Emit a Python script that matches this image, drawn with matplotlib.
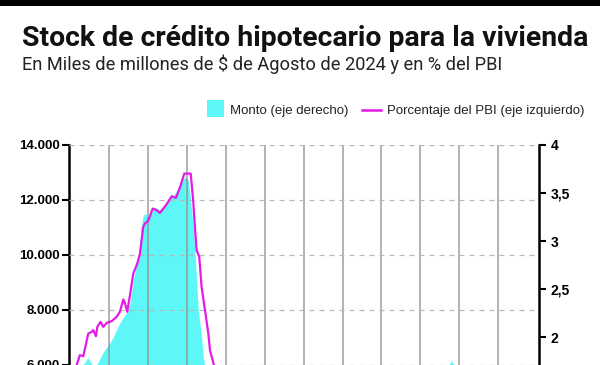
import matplotlib
matplotlib.use('Agg')
import matplotlib.pyplot as plt
from matplotlib.patches import Rectangle
from matplotlib.lines import Line2D

# ---------------- data ----------------
monto_years = [1994.44, 1995.0, 1995.44, 1995.64, 1995.83, 1996.02, 1996.28, 1996.60, 1997.01,
               1997.26, 1997.57, 1997.91, 1998.14, 1998.34, 1998.46, 1998.59, 1998.87,
               1999.09, 1999.19, 1999.36, 1999.51, 1999.62, 1999.94, 2000.26, 2000.70,
               2001.12, 2001.44, 2001.76, 2001.94, 2002.08, 2002.19, 2002.40, 2002.51,
               2002.73, 2002.94, 2003.05, 2003.16, 2003.6, 2004.5, 2006.0, 2008.0, 2010.0,
               2012.0, 2014.0, 2016.0, 2017.0, 2018.0, 2018.84, 2019.0, 2019.16, 2019.6,
               2020.5, 2021.5, 2022.5, 2023.5, 2024.64]
monto_values = [5600, 5800, 6084, 6266, 6084, 5865, 6084, 6448, 6765,
                7005, 7395, 7734, 7905, 8222, 8707, 9191, 9920,
                11137, 11439, 11501, 11220, 11439, 11741, 11621, 11913,
                12149, 12412, 12751, 12842, 12714, 12229, 11013, 10164,
                7978, 7005, 6277, 5938, 5200, 4500, 3800, 4200, 3800,
                4000, 3200, 3000, 3600, 5300, 6000, 6150, 6000, 5600,
                4900, 4100, 3300, 2500, 2100]

pct_years = [1994.44, 1994.91, 1995.12, 1995.34, 1995.66, 1995.88, 1995.98, 1996.15, 1996.24,
             1996.45, 1996.62, 1996.84, 1997.16, 1997.48, 1997.69, 1997.91, 1998.02,
             1998.16, 1998.34, 1998.55, 1998.81, 1998.98, 1999.19, 1999.30, 1999.51,
             1999.80, 2000.05, 2000.26, 2000.65, 2001.02, 2001.29, 2001.55, 2001.83,
             2002.24, 2002.30, 2002.40, 2002.51, 2002.62, 2002.79, 2002.94, 2003.16,
             2003.37, 2003.48, 2004.0, 2005.0, 2007.0, 2009.0, 2011.0, 2013.0, 2015.0,
             2017.0, 2018.5, 2019.5, 2021.0, 2022.5, 2024.64]
pct_values = [1.60, 1.712, 1.815, 1.805, 2.040, 2.057, 2.075, 2.012, 2.109,
              2.161, 2.109, 2.150, 2.168, 2.213, 2.265, 2.393, 2.352,
              2.265, 2.438, 2.663, 2.767, 2.870, 3.146, 3.182, 3.209,
              3.337, 3.320, 3.292, 3.371, 3.465, 3.447, 3.555, 3.700,
              3.700, 3.597, 3.423, 3.146, 2.905, 2.835, 2.524, 2.282,
              2.044, 1.867, 1.55, 1.20, 0.90, 0.95, 0.85, 0.70, 0.55,
              0.65, 1.00, 0.90, 0.60, 0.45, 0.40]

left_ticks = [0, 2000, 4000, 6000, 8000, 10000, 12000, 14000]
left_labels = ['0', '2.000', '4.000', '6.000', '8.000', '10.000', '12.000', '14.000']
right_ticks = [0, 0.5, 1, 1.5, 2, 2.5, 3, 3.5, 4]
right_labels = ['0', '0,5', '1', '1,5', '2', '2,5', '3', '3,5', '4']
grid_years = [1997, 1999.5, 2002, 2004.5, 2007, 2009.5, 2012, 2014.5, 2017, 2019.5, 2022]
x_start, x_end = 1994.44, 2024.64

title = 'Stock de crédito hipotecario para la vivienda'
subtitle = 'En Miles de millones de $ de Agosto de 2024 y en % del PBI'
legend_monto = 'Monto (eje derecho)'
legend_pct = 'Porcentaje del PBI (eje izquierdo)'

# ---------------- style ----------------
CYAN = '#5EF7F7'
MAGENTA = '#E51BE5'
SANS = ['Liberation Sans', 'DejaVu Sans']
W, H = 600, 365

fig = plt.figure(figsize=(6, 3.65), dpi=100)
fig.patch.set_facecolor('white')
renderer = fig.canvas.get_renderer()


def fx(px):
    return px / W


def fy(py):
    return 1 - py / H


def fit_width(t, target):
    bb = t.get_window_extent(renderer)
    if bb.width > 0:
        t.set_fontsize(t.get_fontsize() * target / bb.width)


# top black bar
fig.add_artist(Rectangle((0, fy(6)), 1, 6 / H, transform=fig.transFigure,
                         facecolor='black', edgecolor='none'))

t1 = fig.text(fx(22), fy(46), title, fontsize=20, fontweight='bold',
              family=['Roboto', 'DejaVu Sans'], va='baseline', ha='left', color='#111111')
fit_width(t1, 566)
t2 = fig.text(fx(22), fy(70), subtitle, fontsize=13.3,
              family=['Roboto', 'DejaVu Sans'], va='baseline', ha='left', color='#222222')
fit_width(t2, 481)

# legend (manual)
fig.add_artist(Rectangle((fx(207), fy(117)), 17 / W, 17 / H, transform=fig.transFigure,
                         facecolor=CYAN, edgecolor='none'))
fig.text(fx(230), fy(114), legend_monto, fontsize=9.5, family=SANS,
         va='baseline', ha='left', color='#222222')
fig.add_artist(Line2D([fx(362), fx(381)], [fy(110), fy(110)], transform=fig.transFigure,
                      color=MAGENTA, lw=1.8))
fig.text(fx(387), fy(114), legend_pct, fontsize=9.5, family=SANS,
         va='baseline', ha='left', color='#222222')

# axes (extends beyond the cropped bottom)
ax = fig.add_axes([fx(69.3), (H - 530) / H, 470 / W, (530 - 144.7) / H])
ax.fill_between(monto_years, monto_values, 0, color=CYAN, lw=0, zorder=1)
ax.set_xlim(x_start, x_end)
ax.set_ylim(0, 14000)
ax.set_yticks(left_ticks)
ax.set_yticklabels(left_labels)
ax.set_xticks(grid_years)
ax.set_xticklabels([])
ax.tick_params(axis='x', length=0)
ax.set_axisbelow(False)
ax.grid(axis='y', color='#b8b8b8', lw=0.9, ls=(0, (4, 4)))
ax.grid(axis='x', color='#8f8f8f', lw=1.2, alpha=0.8)
for s in ['top', 'right', 'bottom']:
    ax.spines[s].set_visible(False)
ax.spines['left'].set_linewidth(1.8)
ax.spines['left'].set_color('black')
ax.tick_params(axis='y', direction='out', length=5, width=1.5, pad=2, colors='black',
               labelsize=9.5)
for lab in ax.get_yticklabels():
    lab.set_family(SANS)
    lab.set_fontweight('bold')

ax2 = ax.twinx()
ax2.plot(pct_years, pct_values, color=MAGENTA, lw=1.6, zorder=3)
ax2.set_ylim(0, 4)
ax2.set_yticks(right_ticks)
ax2.set_yticklabels(right_labels)
for s in ['top', 'left', 'bottom']:
    ax2.spines[s].set_visible(False)
ax2.spines['right'].set_linewidth(1.8)
ax2.spines['right'].set_color('black')
ax2.tick_params(axis='y', direction='out', length=5, width=1.5, pad=3, colors='black',
                labelsize=10)
for lab in ax2.get_yticklabels():
    lab.set_family(SANS)
    lab.set_fontweight('bold')

fig.savefig('out.png', dpi=100)
